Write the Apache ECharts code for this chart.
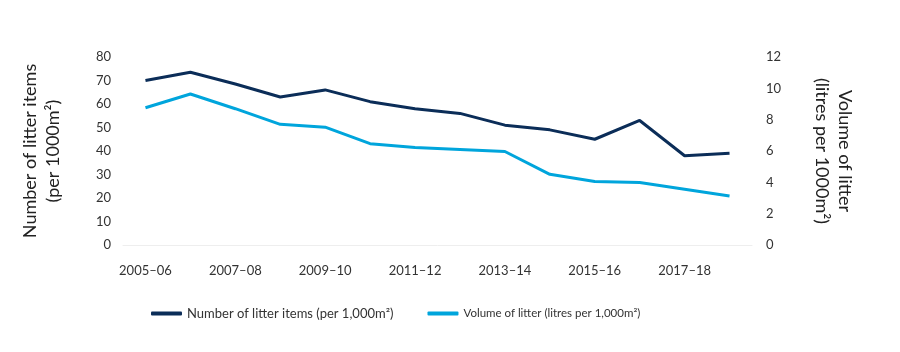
<!DOCTYPE html>
<html>
<head>
<meta charset="utf-8">
<script src="https://cdn.jsdelivr.net/npm/echarts@6/dist/echarts.min.js"></script>
<style>
  html, body { margin: 0; padding: 0; background: #fff; }
  #chart_1 { width: 900px; height: 352px; }
</style>
</head>
<body>
<div id="chart_1"></div>
<script>
var years = ['2005–06','2006–07','2007–08','2008–09','2009–10','2010–11','2011–12',
             '2012–13','2013–14','2014–15','2015–16','2016–17','2017–18','2018–19']
// 垃圾数量 (per 1000m2)
var itemsData = [70, 73.5, 68.5, 63, 66, 61, 58, 56, 51, 49, 45, 53, 38, 39]
// 垃圾体积 (litres per 1000m2)
var volumeData = [8.76, 9.64, 8.7, 7.7, 7.52, 6.47, 6.23, 6.1, 5.97, 4.51, 4.05, 3.99, 3.56, 3.13]
var names = ['Number of litter items (per 1,000m²)', 'Volume of litter (litres per 1,000m²)']

var font = 'Lato, "Noto Sans", sans-serif'
var char1 = echarts.init(document.getElementById('chart_1'))
var option1 = {
    animation: false,
    textStyle: { fontFamily: font },
    color: ['#0b2d58', '#00a5dc'],
    legend: {
        data: names,
        left: 146,
        top: 302,
        itemWidth: 31,
        itemHeight: 4,
        itemGap: 34,
        icon: 'roundRect',
        formatter: function (n) {
            return n === names[0] ? '{a|' + n + '}' : '{b|' + n + '}'
        },
        textStyle: {
            color: '#333',
            rich: {
                a: { fontSize: 13, fontFamily: font, color: '#333' },
                b: { fontSize: 11.5, fontFamily: font, color: '#333' }
            }
        }
    },
    grid: {
        top: 57,
        left: 123,
        right: 148,
        bottom: 107
    },
    xAxis: {
        type: 'category',
        boundaryGap: true,
        data: years,
        axisTick: { show: false },
        axisLine: { lineStyle: { color: '#eeeeee', width: 1 } },
        axisLabel: {
            interval: 1,
            color: '#333',
            fontSize: 13,
            margin: 19
        }
    },
    yAxis: [
        {
            type: 'value',
            min: 0,
            max: 80,
            interval: 10,
            name: 'Number of litter items\n(per 1000m²)',
            nameLocation: 'middle',
            nameRotate: 90,
            nameGap: 58,
            nameMoveOverlap: false,
            nameTextStyle: { color: '#222', fontSize: 18, lineHeight: 23 },
            splitLine: { show: false },
            axisLine: { show: false },
            axisTick: { show: false },
            axisLabel: { color: '#333', fontSize: 13, margin: 12 }
        },
        {
            type: 'value',
            min: 0,
            max: 12,
            interval: 2,
            name: 'Volume of litter\n(litres per 1000m²)',
            nameLocation: 'middle',
            nameRotate: -90,
            nameGap: 58,
            nameTextStyle: { color: '#222', fontSize: 18, lineHeight: 23 },
            splitLine: { show: false },
            axisLine: { show: false },
            axisTick: { show: false },
            axisLabel: { color: '#333', fontSize: 13, margin: 14 }
        }
    ],
    series: [
        {
            name: names[0],
            type: 'line',
            yAxisIndex: 0,
            data: itemsData,
            symbol: 'none',
            lineStyle: { width: 3 }
        },
        {
            name: names[1],
            type: 'line',
            yAxisIndex: 1,
            data: volumeData,
            symbol: 'none',
            lineStyle: { width: 3 }
        }
    ]
}
char1.setOption(option1)
</script>
</body>
</html>
